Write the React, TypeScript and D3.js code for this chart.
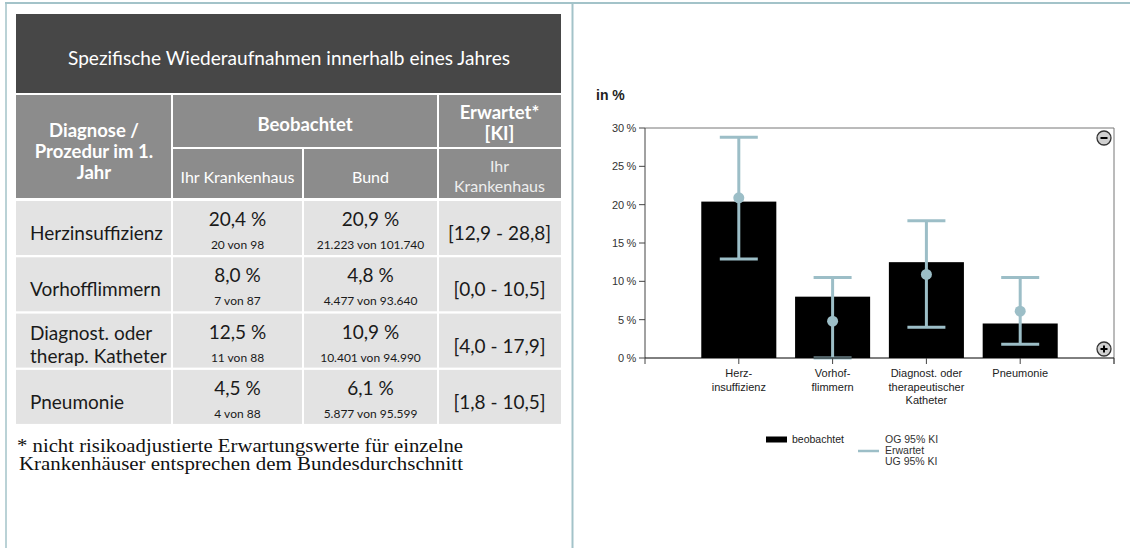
import React from "react";
import * as d3 from "d3";

const categories = ["Herzinsuffizienz", "Vorhofflimmern", "Diagnost. oder therap. Katheter", "Pneumonie"];
const tableRowLines = [["Herzinsuffizienz"], ["Vorhofflimmern"], ["Diagnost. oder", "therap. Katheter"], ["Pneumonie"]];
const chartLabels = [["Herz-", "insuffizienz"], ["Vorhof-", "flimmern"], ["Diagnost. oder", "therapeutischer", "Katheter"], ["Pneumonie"]];
const observedPct = [20.4, 8.0, 12.5, 4.5];
const observedCount = ["20 von 98", "7 von 87", "11 von 88", "4 von 88"];
const nationalPct = [20.9, 4.8, 10.9, 6.1];
const nationalCount = ["21.223 von 101.740", "4.477 von 93.640", "10.401 von 94.990", "5.877 von 95.599"];
const ciLower = [12.9, 0.0, 4.0, 1.8];
const ciUpper = [28.8, 10.5, 17.9, 10.5];
const yTicks = [0, 5, 10, 15, 20, 25, 30];

const title = "Spezifische Wiederaufnahmen innerhalb eines Jahres";
const footnote = ["* nicht risikoadjustierte Erwartungswerte für einzelne", "Krankenhäuser entsprechen dem Bundesdurchschnitt"];

const loc = d3.formatLocale({ decimal: ",", thousands: ".", grouping: [3], currency: ["", "€"] });
const f1 = loc.format(".1f");

const TABLE_FONT = "Lato, 'Open Sans', sans-serif";
const CHART_FONT = "'Liberation Sans', Arial, sans-serif";
const ERR = "#9cbec7";

export default function App() {
  const x = d3.scaleLinear().domain([0, 5]).range([645, 1114]);
  const y = d3.scaleLinear().domain([0, 30]).range([358, 128]);
  const step = x(1) - x(0);
  const barW = step * 0.8;
  const capW = 38;

  const colX = [16, 172, 303, 438, 561];
  const gap = 2;
  const rowTop = (i: number) => 201 + i * 56.3;
  const rowH = 54;
  const cx = (c: number) => (colX[c] + colX[c + 1]) / 2;

  return (
    <svg width={1130} height={548} style={{ position: "absolute", left: 0, top: 0, background: "#fff" }}>
      {/* frame lines */}
      <line x1={5} x2={1130} y1={3} y2={3} stroke="#a3c3c9" strokeWidth={2} />
      <line x1={6} x2={6} y1={3} y2={548} stroke="#a3c3c9" strokeWidth={1.5} />
      <line x1={572.5} x2={572.5} y1={3} y2={548} stroke="#a3c3c9" strokeWidth={2} />

      {/* table title */}
      <rect x={16} y={14} width={545} height={79} fill="#474747" />
      <text x={289} y={65} fill="#fff" fontFamily={TABLE_FONT} fontSize={20} textAnchor="middle" textLength={442} lengthAdjust="spacingAndGlyphs">{title}</text>

      {/* header cells */}
      <rect x={colX[0]} y={95} width={colX[1] - colX[0] - gap / 2} height={103} fill="#8c8c8c" />
      <rect x={colX[1] + gap / 2} y={95} width={colX[3] - colX[1] - gap} height={52} fill="#8c8c8c" />
      <rect x={colX[3] + gap / 2} y={95} width={colX[4] - colX[3] - gap / 2} height={52} fill="#8c8c8c" />
      {[1, 2, 3].map((c) => (
        <rect key={c} x={colX[c] + gap / 2} y={149} width={colX[c + 1] - colX[c] - (c === 3 ? gap / 2 : gap)} height={49} fill="#8c8c8c" />
      ))}
      <g fill="#fff" fontFamily={TABLE_FONT} fontWeight="bold" fontSize={18.5} textAnchor="middle">
        <text x={cx(0)} y={137}>Diagnose /</text>
        <text x={cx(0)} y={158}>Prozedur im 1.</text>
        <text x={cx(0)} y={179}>Jahr</text>
        <text x={(colX[1] + colX[3]) / 2} y={131}>Beobachtet</text>
        <text x={cx(3)} y={119}>Erwartet*</text>
        <text x={cx(3)} y={140}>[KI]</text>
      </g>
      <g fill="#fff" fontFamily={TABLE_FONT} fontSize={16} textAnchor="middle">
        <text x={cx(1)} y={183}>Ihr Krankenhaus</text>
        <text x={cx(2)} y={183}>Bund</text>
        <text x={cx(3)} y={172} fill="#eee">Ihr</text>
        <text x={cx(3)} y={192} fill="#eee">Krankenhaus</text>
      </g>

      {/* data rows */}
      {categories.map((cat, i) => {
        const t = rowTop(i);
        const lines = tableRowLines[i];
        return (
          <g key={cat} fontFamily={TABLE_FONT} fill="#1a1a1a">
            {[0, 1, 2, 3].map((c) => (
              <rect key={c} x={colX[c] + (c === 0 ? 0 : gap / 2)} y={t} width={colX[c + 1] - colX[c] - (c === 0 || c === 3 ? gap / 2 : gap)} height={rowH} fill="#e3e3e3" />
            ))}
            {lines.length === 1 ? (
              <text x={30} y={t + 39} fontSize={19}>{lines[0]}</text>
            ) : (
              lines.map((l, k) => (
                <text key={k} x={30} y={t + 26 + k * 23} fontSize={19}>{l}</text>
              ))
            )}
            <text x={cx(1)} y={t + 25} fontSize={19} textAnchor="middle">{f1(observedPct[i])} %</text>
            <text x={cx(1)} y={t + 48} fontSize={12} textAnchor="middle">{observedCount[i]}</text>
            <text x={cx(2)} y={t + 25} fontSize={19} textAnchor="middle">{f1(nationalPct[i])} %</text>
            <text x={cx(2)} y={t + 48} fontSize={12} textAnchor="middle">{nationalCount[i]}</text>
            <text x={cx(3)} y={t + 39} fontSize={19} textAnchor="middle">[{f1(ciLower[i])} - {f1(ciUpper[i])}]</text>
          </g>
        );
      })}

      {/* footnote */}
      <g fontFamily="'Liberation Serif', serif" fontSize={18} fill="#111">
        <text x={17} y={452} textLength={446} lengthAdjust="spacingAndGlyphs">{footnote[0]}</text>
        <text x={19} y={470} textLength={444} lengthAdjust="spacingAndGlyphs">{footnote[1]}</text>
      </g>

      {/* chart */}
      <text x={596} y={100} fontFamily={CHART_FONT} fontWeight="bold" fontSize={14} fill="#222">in %</text>

      {/* plot frame */}
      <line x1={x(0)} x2={x(5)} y1={y(30)} y2={y(30)} stroke="#777" strokeWidth={1} />
      <line x1={x(5)} x2={x(5)} y1={y(30)} y2={y(0) + 6} stroke="#777" strokeWidth={1} />

      {/* bars */}
      {observedPct.map((v, i) => (
        <rect key={i} x={x(i + 1) - barW / 2} y={y(v)} width={barW} height={y(0) - y(v)} fill="#000" />
      ))}

      {/* error bars */}
      {nationalPct.map((v, i) => {
        const px = x(i + 1);
        return (
          <g key={i} stroke={ERR} strokeWidth={3}>
            <line x1={px} x2={px} y1={y(ciUpper[i])} y2={y(ciLower[i])} />
            <line x1={px - capW / 2} x2={px + capW / 2} y1={y(ciUpper[i])} y2={y(ciUpper[i])} />
            <line x1={px - capW / 2} x2={px + capW / 2} y1={y(ciLower[i])} y2={y(ciLower[i])} />
            <circle cx={px} cy={y(v)} r={5.5} fill={ERR} stroke="none" />
          </g>
        );
      })}

      {/* y axis */}
      <line x1={x(0)} x2={x(0)} y1={y(30)} y2={y(0)} stroke="#444" />
      {yTicks.map((t) => (
        <g key={t}>
          <line x1={x(0) - 6} x2={x(0)} y1={y(t)} y2={y(t)} stroke="#444" />
          <text x={636} y={y(t) + 4} fontFamily={CHART_FONT} fontSize={11} fill="#333" textAnchor="end" letterSpacing={-0.3}>{t} %</text>
        </g>
      ))}

      {/* x axis */}
      <line x1={x(0)} x2={x(5)} y1={y(0)} y2={y(0)} stroke="#000" />
      {[0, 1, 2, 3, 4, 5].map((k) => (
        <line key={k} x1={x(k)} x2={x(k)} y1={y(0)} y2={y(0) + 6} stroke="#444" />
      ))}
      {chartLabels.map((ls, i) => (
        <g key={i} fontFamily={CHART_FONT} fontSize={11} fill="#222" textAnchor="middle">
          {ls.map((l, k) => (
            <text key={k} x={x(i + 1)} y={377 + k * 13.5}>{l}</text>
          ))}
        </g>
      ))}

      {/* zoom buttons */}
      {[{ cy: 138, s: "-" }, { cy: 349, s: "+" }].map((b) => (
        <g key={b.s}>
          <circle cx={1104} cy={b.cy} r={7} fill="#d0d0d0" stroke="#333" strokeWidth={1.3} />
          <line x1={1100.5} x2={1107.5} y1={b.cy} y2={b.cy} stroke="#000" strokeWidth={2} />
          {b.s === "+" && <line x1={1104} x2={1104} y1={b.cy - 3.5} y2={b.cy + 3.5} stroke="#000" strokeWidth={2} />}
        </g>
      ))}

      {/* legend */}
      <rect x={766} y={436.5} width={21} height={6} fill="#000" />
      <text x={792} y={443} fontFamily={CHART_FONT} fontSize={10.5} fill="#222">beobachtet</text>
      <line x1={858} x2={879} y1={451} y2={451} stroke={ERR} strokeWidth={2.5} />
      <g fontFamily={CHART_FONT} fontSize={10.5} fill="#333">
        <text x={885} y={443}>OG 95% KI</text>
        <text x={885} y={454}>Erwartet</text>
        <text x={885} y={465}>UG 95% KI</text>
      </g>
    </svg>
  );
}
